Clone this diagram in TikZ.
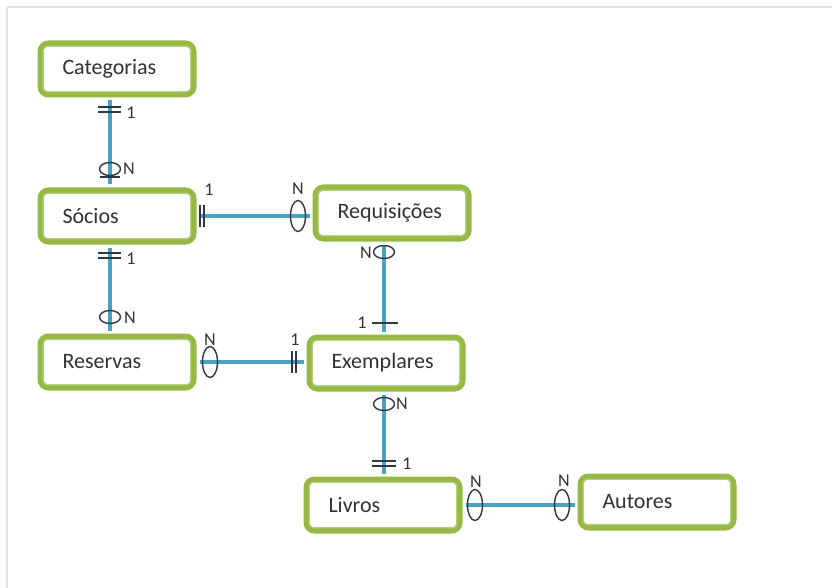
\documentclass[tikz,border=0pt]{standalone}
\usepackage{fontspec}
\setmainfont{Carlito}
\usetikzlibrary{shapes.geometric}
\definecolor{framegreen}{RGB}{150,185,70}
\definecolor{innergreen}{RGB}{180,208,125}
\definecolor{linkblue}{RGB}{72,162,192}
\definecolor{markgray}{RGB}{45,55,70}
\definecolor{textgray}{RGB}{50,50,50}
\definecolor{edgegray}{RGB}{228,228,228}

\begin{document}
\begin{tikzpicture}[x=1pt,y=-1pt,
  entity/.style={draw=framegreen, line width=6pt, rounded corners=8pt, fill=white,
    minimum width=153pt, minimum height=51pt, text width=109pt, align=left,
    inner xsep=22pt, inner ysep=0pt, font=\fontsize{22}{26}\selectfont, text=textgray},
  innerframe/.style={draw=innergreen, line width=1.2pt, rounded corners=4pt},
  link/.style={draw=linkblue, line width=4pt, shorten <=3pt, shorten >=3pt},
  bar/.style={draw=markgray, line width=1.4pt},
  oring/.style={ellipse, draw=markgray, line width=1.4pt, minimum width=21pt, minimum height=13pt, inner sep=0pt},
  vring/.style={ellipse, draw=markgray, line width=1.4pt, minimum width=15pt, minimum height=31pt, inner sep=0pt},
  card/.style={inner sep=0pt, font=\fontsize{18}{20}\selectfont, text=textgray}]

\useasboundingbox (0,0) rectangle (832,588);
\draw[edgegray, line width=2pt] (7,588) -- (7,7) -- (832,7);

% entities
\node[entity] (cat) at (117,69)  {Categorias};
\node[entity] (soc) at (117,216) {Sócios};
\node[entity] (req) at (392,213) {Requisições};
\node[entity] (res) at (117,362) {Reservas};
\node[entity] (exe) at (386,363) {Exemplares};
\node[entity] (liv) at (383,505) {Livros};
\node[entity] (aut) at (657,502) {Autores};
\foreach \n in {cat,soc,req,res,exe,liv,aut}
  \draw[innerframe] ([shift={(5.8,5.8)}]\n.north west) rectangle ([shift={(-5.8,-5.8)}]\n.south east);

% relationships
\draw[link] ([xshift=-7pt]cat.south) -- ([xshift=-7pt]soc.north);
\draw[link] (soc.east) -- (soc.east -| req.west);
\draw[link] ([xshift=-7pt]soc.south) -- ([xshift=-7pt]res.north);
\draw[link] ([xshift=-8pt]req.south) -- ([xshift=-8pt]req.south |- exe.north);
\draw[link] (res.east) -- (res.east -| exe.west);
\draw[link] ([xshift=-2pt]exe.south) -- ([xshift=-2pt]exe.south |- liv.north);
\draw[link] (liv.east) -- (liv.east -| aut.west);

% Categorias - Socios
\draw[bar] (98,107) -- (121,107);
\draw[bar] (98,112) -- (121,112);
\node[card] (c1) at (131,113) {1};
\node[oring] (o1) at (110,169) {};
\draw[bar] (100,177) -- (120,177);
\node[card] (c2) at (129,169) {N};

% Socios - Requisicoes
\draw[bar] (200,205) -- (200,227);
\draw[bar] (204,205) -- (204,227);
\node[card] (c3) at (209,190) {1};
\node[vring] (o2) at (298,216) {};
\node[card] (c4) at (298,189) {N};

% Socios - Reservas
\draw[bar] (98,253) -- (121,253);
\draw[bar] (98,258) -- (121,258);
\node[card] (c5) at (131,259) {1};
\node[oring] (o3) at (110,317) {};
\node[card] (c6) at (130,318) {N};

% Requisicoes - Exemplares
\node[oring] (o4) at (384,252) {};
\node[card] (c7) at (366,253) {N};
\draw[bar] (372,323) -- (398,323);
\node[card] (c8) at (362,323) {1};

% Reservas - Exemplares
\node[vring] (o5) at (210,362) {};
\node[card] (c9) at (210,340) {N};
\draw[bar] (292,351) -- (292,373);
\draw[bar] (296,351) -- (296,373);
\node[card] (c10) at (295,340) {1};

% Exemplares - Livros
\node[oring] (o6) at (384,404) {};
\node[card] (c11) at (402,404) {N};
\draw[bar] (372,461) -- (396,461);
\draw[bar] (372,466) -- (396,466);
\node[card] (c12) at (407,464) {1};

% Livros - Autores
\node[vring] (o7) at (475,505) {};
\node[card] (c13) at (476,482) {N};
\node[vring] (o8) at (562,505) {};
\node[card] (c14) at (564,481) {N};
\end{tikzpicture}
\end{document}
